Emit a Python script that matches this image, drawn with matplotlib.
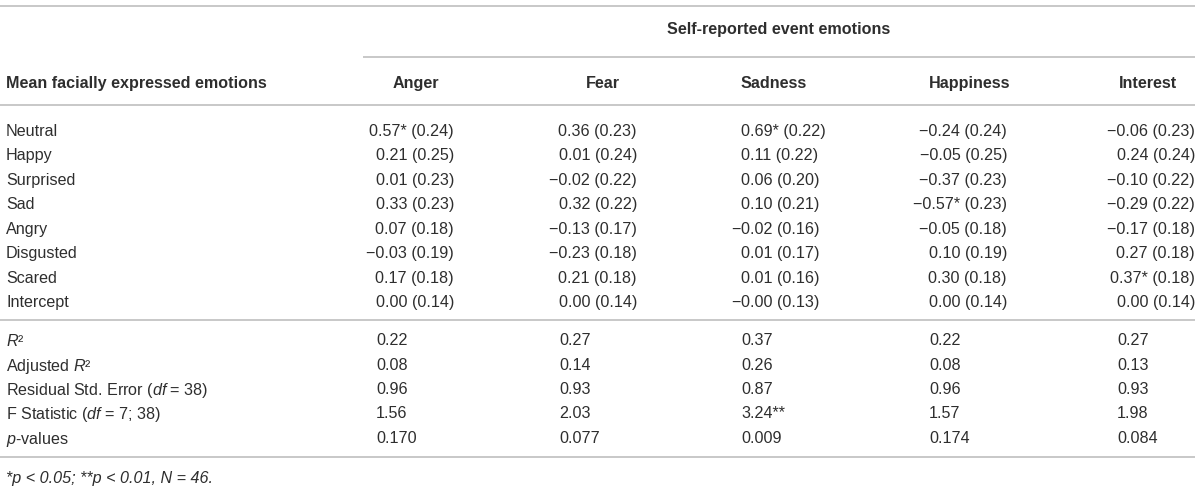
import matplotlib
matplotlib.use("Agg")
import matplotlib.pyplot as plt

plt.rcParams['font.family'] = ['Liberation Sans', 'DejaVu Sans']
plt.rcParams['mathtext.fontset'] = 'custom'
plt.rcParams['mathtext.rm'] = 'Liberation Sans'
plt.rcParams['mathtext.it'] = 'Liberation Sans:italic'
plt.rcParams['mathtext.bf'] = 'Liberation Sans:bold'

# ---------------- data ----------------
spanner = "Self-reported event emotions"
row_header = "Mean facially expressed emotions"
columns = ["Anger", "Fear", "Sadness", "Happiness", "Interest"]
predictors = ["Neutral", "Happy", "Surprised", "Sad", "Angry", "Disgusted", "Scared", "Intercept"]

anger_b = [0.57, 0.21, 0.01, 0.33, 0.07, -0.03, 0.17, 0.00]
anger_se = [0.24, 0.25, 0.23, 0.23, 0.18, 0.19, 0.18, 0.14]
anger_sig = ["*", "", "", "", "", "", "", ""]

fear_b = [0.36, 0.01, -0.02, 0.32, -0.13, -0.23, 0.21, 0.00]
fear_se = [0.23, 0.24, 0.22, 0.22, 0.17, 0.18, 0.18, 0.14]
fear_sig = ["", "", "", "", "", "", "", ""]

sadness_b = [0.69, 0.11, 0.06, 0.10, -0.02, 0.01, 0.01, -0.0]
sadness_se = [0.22, 0.22, 0.20, 0.21, 0.16, 0.17, 0.16, 0.13]
sadness_sig = ["*", "", "", "", "", "", "", ""]

happiness_b = [-0.24, -0.05, -0.37, -0.57, -0.05, 0.10, 0.30, 0.00]
happiness_se = [0.24, 0.25, 0.23, 0.23, 0.18, 0.19, 0.18, 0.14]
happiness_sig = ["", "", "", "*", "", "", "", ""]

interest_b = [-0.06, 0.24, -0.10, -0.29, -0.17, 0.27, 0.37, 0.00]
interest_se = [0.23, 0.24, 0.22, 0.22, 0.18, 0.18, 0.18, 0.14]
interest_sig = ["", "", "", "", "", "", "*", ""]

stat_labels = [r"$R$²", r"Adjusted $R$²", r"Residual Std. Error ($df$ = 38)",
               r"F Statistic ($df$ = 7; 38)", r"$p$-values"]
r2 = ["0.22", "0.27", "0.37", "0.22", "0.27"]
adj_r2 = ["0.08", "0.14", "0.26", "0.08", "0.13"]
resid_se = ["0.96", "0.93", "0.87", "0.96", "0.93"]
f_stat = ["1.56", "2.03", "3.24**", "1.57", "1.98"]
p_values = ["0.170", "0.077", "0.009", "0.174", "0.084"]

footnote = "*p < 0.05; **p < 0.01, N = 46."

# ---------------- layout ----------------
W, H = 1200, 497
fig = plt.figure(figsize=(W / 100, H / 100), dpi=100)
ax = fig.add_axes([0, 0, 1, 1])
ax.set_xlim(0, W)
ax.set_ylim(H, 0)
ax.axis("off")

TXT = "#2e2e2e"
LINE = "#c4c4c4"
FS = 11.6
VA = "center_baseline"

col_x0 = [376, 559, 741, 929, 1117]
col_w = 78
header_cx = [416, 603, 774, 970, 1148]

y_top = 6
y_span_text = 28
y_span_line = 57
y_header = 82
y_header_line = 105
y_rows0 = 130
row_step = 24.43
y_mid_line = 320
y_stats0 = 339
stat_step = 24.5
y_bottom_line = 457
y_foot = 477

def hline(y, x0=0, x1=1195):
    ax.plot([x0, x1], [y, y], color=LINE, lw=1.3, solid_capstyle="butt")

hline(y_top)
ax.text((363 + 1195) / 2, y_span_text, spanner, ha="center", va=VA,
        fontsize=FS, fontweight="bold", color=TXT)
hline(y_span_line, 363, 1195)
ax.text(6, y_header, row_header, ha="left", va=VA, fontsize=FS,
        fontweight="bold", color=TXT)
for cx, name in zip(header_cx, columns):
    ax.text(cx, y_header, name, ha="center", va=VA, fontsize=FS,
            fontweight="bold", color=TXT)
hline(y_header_line)

def fmt(v):
    return f"{v:.2f}".replace("-", "\u2212")

blocks = [(anger_b, anger_se, anger_sig), (fear_b, fear_se, fear_sig),
          (sadness_b, sadness_se, sadness_sig), (happiness_b, happiness_se, happiness_sig),
          (interest_b, interest_se, interest_sig)]

for i, name in enumerate(predictors):
    y = y_rows0 + i * row_step
    ax.text(6, y, name, ha="left", va=VA, fontsize=FS, color=TXT)
    for j, (b, se, sig) in enumerate(blocks):
        s = f"{fmt(b[i])}{sig[i]} ({se[i]:.2f})"
        if columns[j] == "Sadness":
            if s.startswith("\u2212"):
                ax.text(col_x0[j], y, "\u2212", ha="right", va=VA, fontsize=FS, color=TXT)
                s = s[1:]
            ax.text(col_x0[j], y, s, ha="left", va=VA, fontsize=FS, color=TXT)
        else:
            ax.text(col_x0[j] + col_w, y, s, ha="right", va=VA, fontsize=FS, color=TXT)

hline(y_mid_line)

stats = [r2, adj_r2, resid_se, f_stat, p_values]
for i, (lab, vals) in enumerate(zip(stat_labels, stats)):
    y = y_stats0 + i * stat_step
    ax.text(6, y, lab, ha="left", va=VA, fontsize=FS, color=TXT)
    for j, v in enumerate(vals):
        ax.text(col_x0[j], y, v, ha="left", va=VA, fontsize=FS, color=TXT)

hline(y_bottom_line)
ax.text(6, y_foot, footnote, ha="left", va=VA, fontsize=FS,
        style="italic", color=TXT)

fig.savefig("out.png", dpi=100)
